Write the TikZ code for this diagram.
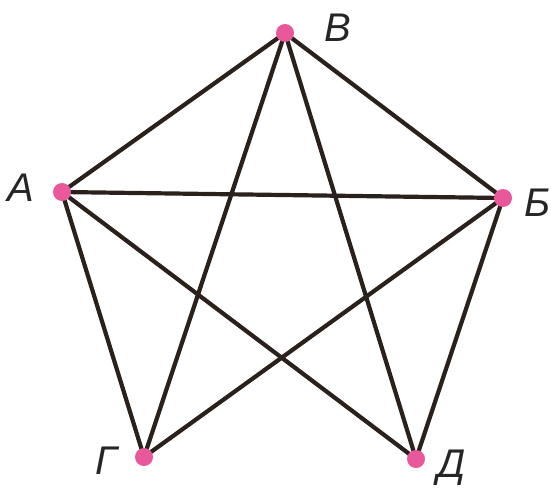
\documentclass[tikz,border=0pt]{standalone}
\usepackage{fontspec}
\setmainfont{Liberation Sans}
\definecolor{dotpink}{HTML}{E8589A}
\definecolor{linecol}{HTML}{2B211C}
\begin{document}
\begin{tikzpicture}[x=1pt,y=-1pt,
  edge/.style={line width=4.2pt,draw=linecol},
  vdot/.style={circle,fill=dotpink,inner sep=0pt,minimum size=18pt},
  lbl/.style={font=\fontsize{40}{40}\selectfont\itshape,text=black!85,inner sep=0pt}]
\useasboundingbox (0,0) rectangle (551,492);
\fill[white] (0,0) rectangle (551,492);
\coordinate (A) at (62,192);
\coordinate (V) at (285,33);
\coordinate (B) at (503,198);
\coordinate (G) at (144,457);
\coordinate (D) at (416,459);
\draw[edge] (A) -- (V);
\draw[edge] (V) -- (B);
\draw[edge] (A) -- (B);
\draw[edge] (A) -- (G);
\draw[edge] (A) -- (D);
\draw[edge] (V) -- (G);
\draw[edge] (V) -- (D);
\draw[edge] (B) -- (G);
\draw[edge] (B) -- (D);
\node[vdot] (nA) at (A) {};
\node[vdot] (nV) at (V) {};
\node[vdot] (nB) at (B) {};
\node[vdot] (nG) at (G) {};
\node[vdot] (nD) at (D) {};
\node[lbl] (lA) at (21,188) {А};
\node[lbl] (lV) at (338,28) {В};
\node[lbl] (lB) at (538,203) {Б};
\node[lbl] (lG) at (106,461) {Г};
\node[lbl] (lD) at (452,468) {Д};
\end{tikzpicture}
\end{document}
